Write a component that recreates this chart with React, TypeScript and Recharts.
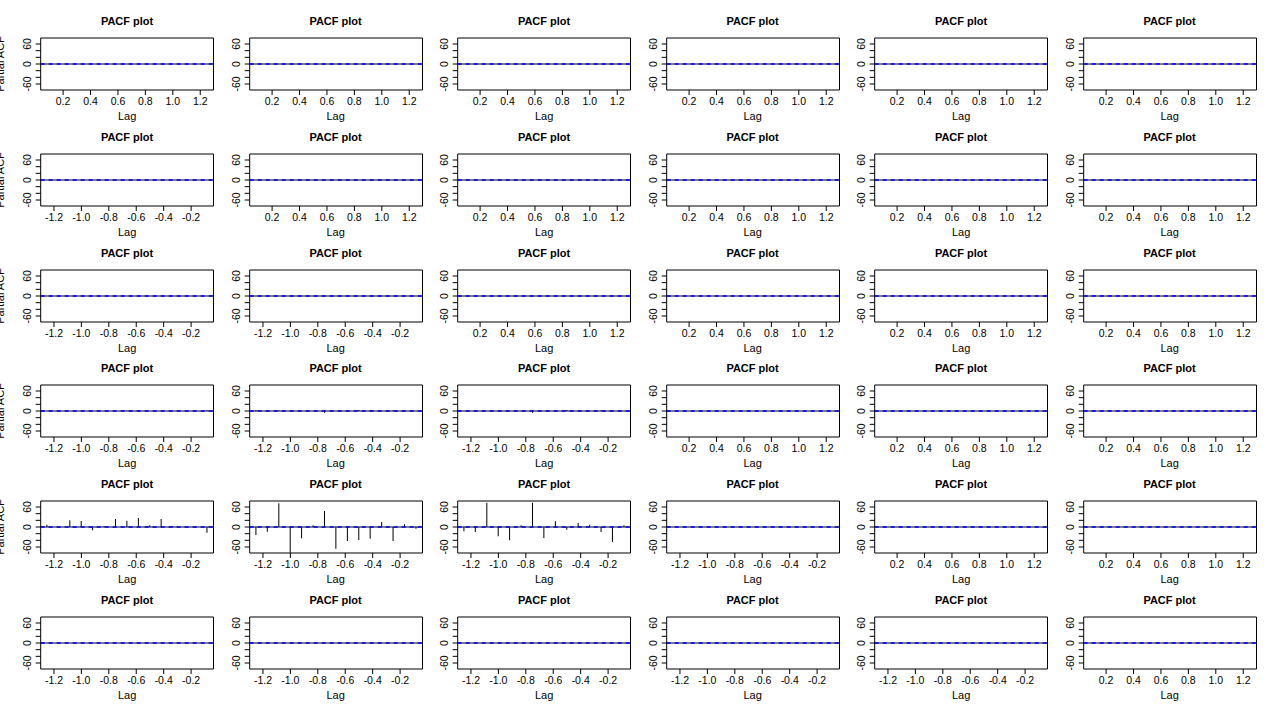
import { Bar, BarChart, ReferenceArea, ReferenceLine, XAxis, YAxis } from "recharts";

// lags 1..15 in years (monthly data), negative lags for the lower panels
const lagsPos = [0.083, 0.167, 0.25, 0.333, 0.417, 0.5, 0.583, 0.667, 0.75, 0.833, 0.917, 1.0, 1.083, 1.167, 1.25];
const lagsNeg = [-1.25, -1.167, -1.083, -1.0, -0.917, -0.833, -0.75, -0.667, -0.583, -0.5, -0.417, -0.333, -0.25, -0.167, -0.083];

const ticksPos = [0.2, 0.4, 0.6, 0.8, 1.0, 1.2];
const ticksNeg = [-1.2, -1.0, -0.8, -0.6, -0.4, -0.2];
const yTicks = [-60, -40, -20, 0, 20, 40, 60];
const yLabelled = [-60, 0, 60];

const flat = [0, 0, 0, 0, 0, 0, 0, 0, 0, 0, 0, 0, 0, 0, 0];
const r4c1 = [0, 0, 0, 0, 0, 0, 0, 1, 2, 0, 0, 0, 0, 0, 2];
const r4c2 = [3, 0, 2, 0, 0, 0, -5, 0, 0, 3, 2, 0, 2, 2, 0];
const r4c3 = [0, 0, 0, 0, 0, -1, -5, 0, 0, 3, 0, 0, 2, 2, 0];
const r5c1 = [7, -2, 20, 18, -10, 2, 24, 19, 27, 5, 24, 3, 1, -2, -17];
const r5c2 = [-24, -14, 71, -77, -34, 5, 48, -65, -42, -39, -35, 15, -42, 8, -5];
const r5c3 = [-13, -15, 73, -28, -40, 5, 73, -33, 17, -8, 12, 7, -15, -45, 5];
const r5c6 = [0, 0, 0, 0, 0, 0, -1, 0, 0, 0, 0, -1, 1, 0, 0];

const panelValues: number[][][] = [
  [flat, flat, flat, flat, flat, flat],
  [flat, flat, flat, flat, flat, flat],
  [flat, flat, flat, flat, flat, flat],
  [r4c1, r4c2, r4c3, flat, flat, flat],
  [r5c1, r5c2, r5c3, flat, flat, r5c6],
  [flat, flat, flat, flat, flat, flat],
];

const FONT = '"Liberation Sans", Arial, sans-serif';
const COL_W = 208.5;
const ROW_H = 115.8;
const BOX_L = 40.7;
const BOX_R = 213.5;
const BOX_T = 38;
const BOX_B = 90;
const CHART_W = 230;
const CHART_H = 125;
const Y_MAX = 78;

function YTick(props: any) {
  const { x, y, payload } = props;
  if (!yLabelled.includes(payload.value)) return <g />;
  const tx = x - 2;
  return (
    <text
      x={tx}
      y={y}
      transform={`rotate(-90, ${tx}, ${y})`}
      textAnchor="middle"
      fontSize={10.5}
      fontFamily={FONT}
      fill="#000"
    >
      {payload.value}
    </text>
  );
}

function Panel({ row, col }: { row: number; col: number }) {
  const neg = col < row;
  const lags = neg ? lagsNeg : lagsPos;
  const values = panelValues[row][col];
  const data = lags.map((lag, i) => ({ lag, v: values[i] }));
  const domain: [number, number] = neg ? [-1.2967, -0.0367] : [0.0367, 1.2967];
  const left = col * COL_W;
  const top = row * ROW_H;

  return (
    <>
      <div style={{ position: "absolute", left, top }}>
        <BarChart
          width={CHART_W}
          height={CHART_H}
          data={data}
          margin={{ top: BOX_T, right: CHART_W - BOX_R, bottom: CHART_H - BOX_B - 30, left: BOX_L - 30 }}
        >
          <XAxis
            dataKey="lag"
            type="number"
            domain={domain}
            allowDataOverflow
            ticks={neg ? ticksNeg : ticksPos}
            interval={0}
            tickFormatter={(v: number) => v.toFixed(1)}
            height={30}
            axisLine={false}
            tickSize={5}
            tickMargin={3}
            tickLine={{ stroke: "#000" }}
            tick={{ fontSize: 10.5, fontFamily: FONT, fill: "#000" }}
          />
          <YAxis
            type="number"
            domain={[-Y_MAX, Y_MAX]}
            allowDataOverflow
            ticks={yTicks}
            interval={0}
            width={30}
            axisLine={false}
            tickSize={5}
            tickMargin={3}
            tickLine={{ stroke: "#000" }}
            tick={<YTick />}
          />
          <Bar dataKey="v" fill="#000" barSize={1} isAnimationActive={false} />
          <ReferenceLine y={0} stroke="#000" strokeWidth={1} />
          <ReferenceLine y={0.4} stroke="#0000ff" strokeDasharray="4 4" />
          <ReferenceLine y={-0.4} stroke="#0000ff" strokeDasharray="4 4" />
          <ReferenceArea
            x1={domain[0]}
            x2={domain[1]}
            y1={-Y_MAX}
            y2={Y_MAX}
            fill="none"
            fillOpacity={0}
            stroke="#000"
            strokeWidth={1}
            ifOverflow="visible"
          />
        </BarChart>
      </div>
      <div
        style={{
          position: "absolute",
          left: left + BOX_L,
          width: BOX_R - BOX_L,
          top: top + 14,
          lineHeight: "14px",
          fontSize: 11,
          fontWeight: "bold",
          fontFamily: FONT,
          textAlign: "center",
        }}
      >
        PACF plot
      </div>
      <div
        style={{
          position: "absolute",
          left: left + BOX_L,
          width: BOX_R - BOX_L,
          top: top + 109,
          lineHeight: "14px",
          fontSize: 11,
          fontFamily: FONT,
          textAlign: "center",
        }}
      >
        Lag
      </div>
      {col === 0 && row < 5 && (
        <div
          style={{
            position: "absolute",
            left: 0,
            top: top + 64,
            transform: "translate(-50%, -50%) rotate(-90deg)",
            whiteSpace: "nowrap",
            lineHeight: "11px",
            fontSize: 11,
            fontFamily: FONT,
          }}
        >
          Partial ACF
        </div>
      )}
    </>
  );
}

export default function App() {
  const rows = [0, 1, 2, 3, 4, 5];
  const cols = [0, 1, 2, 3, 4, 5];
  return (
    <div
      style={{
        position: "absolute",
        left: 0,
        top: 0,
        width: 1280,
        height: 720,
        overflow: "hidden",
        background: "#fff",
        color: "#000",
      }}
    >
      {rows.map((r) => cols.map((c) => <Panel key={`${r}-${c}`} row={r} col={c} />))}
    </div>
  );
}
